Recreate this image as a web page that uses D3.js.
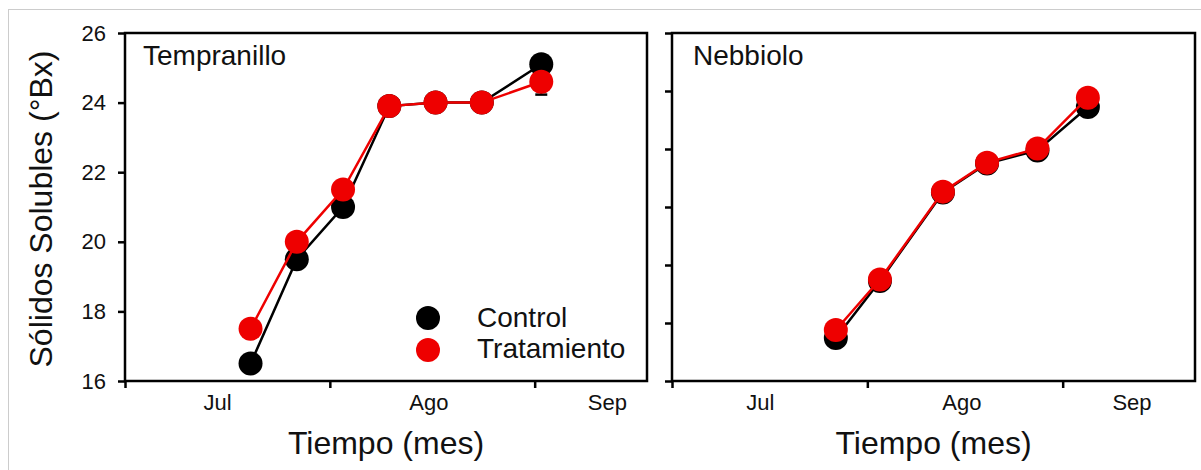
<!DOCTYPE html>
<html>
<head>
<meta charset="utf-8">
<script src="https://cdn.jsdelivr.net/npm/d3@7"></script>
<style>
    body { margin: 0; background: #fff; }
    svg { display: block; font-family: "Liberation Sans", Arial, sans-serif; }
</style>
</head>
<body>
<div id="chart"></div>
<script>

// ---- data ----
const panelNames = ["Tempranillo", "Nebbiolo"];

const tempDates = ["2000-07-20", "2000-07-27", "2000-08-03", "2000-08-10", "2000-08-17", "2000-08-24", "2000-09-02"];
const tempControl = [16.5, 19.5, 21.0, 23.9, 24.0, 24.0, 25.1];
const tempTreat = [17.5, 20.0, 21.5, 23.9, 24.0, 24.0, 24.6];
const tempTreatErr = [0, 0, 0, 0, 0, 0, 0.37];

const nebDates = ["2000-07-27", "2000-08-03", "2000-08-13", "2000-08-20", "2000-08-28", "2000-09-05"];
const nebControl = [17.48, 19.45, 22.5, 23.5, 23.95, 25.45];
const nebTreat = [17.76, 19.5, 22.53, 23.53, 24.02, 25.77];

const tempXDomain = ["2000-07-01", "2000-09-18"];
const nebXDomain = ["2000-07-01", "2000-09-22"];
const tempYDomain = [16, 26];
const nebYDomain = [16, 28];

const monthTicks = ["2000-07-01", "2000-08-01", "2000-09-01"];
const monthLabels = ["Jul", "Ago", "Sep"];
const monthLabelDates = ["2000-07-15", "2000-08-16", "2000-09-12"];

const seriesNames = ["Control", "Tratamiento"];
const seriesColors = ["#000000", "#ee0000"];

// ---- drawing ----
const parseDate = d3.timeParse("%Y-%m-%d");

const svg = d3.select("#chart").append("svg")
    .attr("width", 1201)
    .attr("height", 470);

// light frame of the page
svg.append("line").attr("x1", 8).attr("x2", 1201).attr("y1", 9.5).attr("y2", 9.5)
    .attr("stroke", "#cccccc").attr("stroke-width", 1);
svg.append("line").attr("x1", 8.5).attr("x2", 8.5).attr("y1", 9).attr("y2", 470)
    .attr("stroke", "#cccccc").attr("stroke-width", 1);

const panels = [
    {name: panelNames[0], left: 125, right: 647, dates: tempDates, control: tempControl,
        treat: tempTreat, err: tempTreatErr, xDom: tempXDomain, yDom: tempYDomain, labels: true},
    {name: panelNames[1], left: 672, right: 1195, dates: nebDates, control: nebControl,
        treat: nebTreat, err: null, xDom: nebXDomain, yDom: nebYDomain, labels: false}
];

const plotTop = 33, plotBottom = 381;

panels.forEach(function(p) {
    let g = svg.append("g");

    let x = d3.scaleTime()
        .domain(p.xDom.map(parseDate))
        .range([p.left, p.right]);

    let y = d3.scaleLinear()
        .domain(p.yDom)
        .range([plotBottom, plotTop]);

    // axes
    let yAxis = d3.axisLeft(y)
        .tickValues(d3.range(p.yDom[0], p.yDom[1] + 0.01, 2))
        .tickSize(7)
        .tickSizeOuter(0)
        .tickPadding(12)
        .tickFormat(p.labels ? d3.format("d") : "");

    let xAxis = d3.axisBottom(x)
        .tickValues(monthTicks.map(parseDate))
        .tickSize(7)
        .tickSizeOuter(0)
        .tickFormat("");

    let ya = g.append("g")
        .attr("transform", `translate(${p.left},0)`)
        .call(yAxis);
    let xa = g.append("g")
        .attr("transform", `translate(0,${plotBottom})`)
        .call(xAxis);

    [ya, xa].forEach(function(a) {
        a.select(".domain").remove();
        a.selectAll(".tick line").attr("stroke", "#000").attr("stroke-width", 2.5);
        a.selectAll(".tick text")
            .attr("fill", "#111")
            .style("font-size", "22px")
            .style("font-family", "'Liberation Sans', Arial, sans-serif");
    });

    // month labels sit in the middle of each month
    g.selectAll(".month")
        .data(monthLabels)
        .enter().append("text")
        .attr("class", "month")
        .attr("x", (d, i) => x(parseDate(monthLabelDates[i])))
        .attr("y", 410)
        .attr("text-anchor", "middle")
        .style("font-size", "22px")
        .attr("fill", "#111")
        .text(d => d);

    // frame
    g.append("rect")
        .attr("x", p.left)
        .attr("y", plotTop)
        .attr("width", p.right - p.left)
        .attr("height", plotBottom - plotTop)
        .attr("fill", "none")
        .attr("stroke", "#000")
        .attr("stroke-width", 2.5);

    // panel title
    g.append("text")
        .attr("x", p.left + (p.labels ? 18 : 21))
        .attr("y", 65)
        .style("font-size", "28px")
        .attr("fill", "#111")
        .text(p.name);

    // x-axis title
    g.append("text")
        .attr("x", (p.left + p.right) / 2)
        .attr("y", 454)
        .attr("text-anchor", "middle")
        .style("font-size", "32px")
        .attr("fill", "#111")
        .text("Tiempo (mes)");

    let line = d3.line()
        .x(d => x(d.date))
        .y(d => y(d.value));

    [p.control, p.treat].forEach(function(vals, si) {
        let pts = vals.map((v, i) => ({date: parseDate(p.dates[i]), value: v, err: si === 1 && p.err ? p.err[i] : 0}));

        g.append("path")
            .datum(pts)
            .attr("d", line)
            .attr("fill", "none")
            .attr("stroke", seriesColors[si])
            .attr("stroke-width", 2.5);

        // error bars are drawn in black, behind the symbols
        pts.filter(d => d.err > 0).forEach(function(d) {
            let cx = x(d.date);
            g.append("line")
                .attr("x1", cx).attr("x2", cx)
                .attr("y1", y(d.value - d.err)).attr("y2", y(d.value + d.err))
                .attr("stroke", "#000").attr("stroke-width", 2);
            [d.value - d.err, d.value + d.err].forEach(function(v) {
                g.append("line")
                    .attr("x1", cx - 6).attr("x2", cx + 6)
                    .attr("y1", y(v)).attr("y2", y(v))
                    .attr("stroke", "#000").attr("stroke-width", 2.5);
            });
        });

        g.selectAll(".pt" + si)
            .data(pts)
            .enter().append("circle")
            .attr("class", "pt" + si)
            .attr("cx", d => x(d.date))
            .attr("cy", d => y(d.value))
            .attr("r", 12)
            .attr("fill", seriesColors[si]);
    });

    // legend in the first panel
    if (p.labels) {
        let lg = g.append("g");
        seriesNames.forEach(function(s, i) {
            lg.append("circle")
                .attr("cx", 428)
                .attr("cy", 318 + i * 32)
                .attr("r", 12)
                .attr("fill", seriesColors[i]);
            lg.append("text")
                .attr("x", 477)
                .attr("y", 327 + i * 31)
                .style("font-size", "28px")
                .attr("fill", "#111")
                .text(s);
        });
    }
});

// y-axis title
svg.append("text")
    .attr("transform", "translate(52,209) rotate(-90)")
    .attr("text-anchor", "middle")
    .style("font-size", "32px")
    .attr("fill", "#111")
    .text("Sólidos Solubles (°Bx)");

</script>
</body>
</html>
